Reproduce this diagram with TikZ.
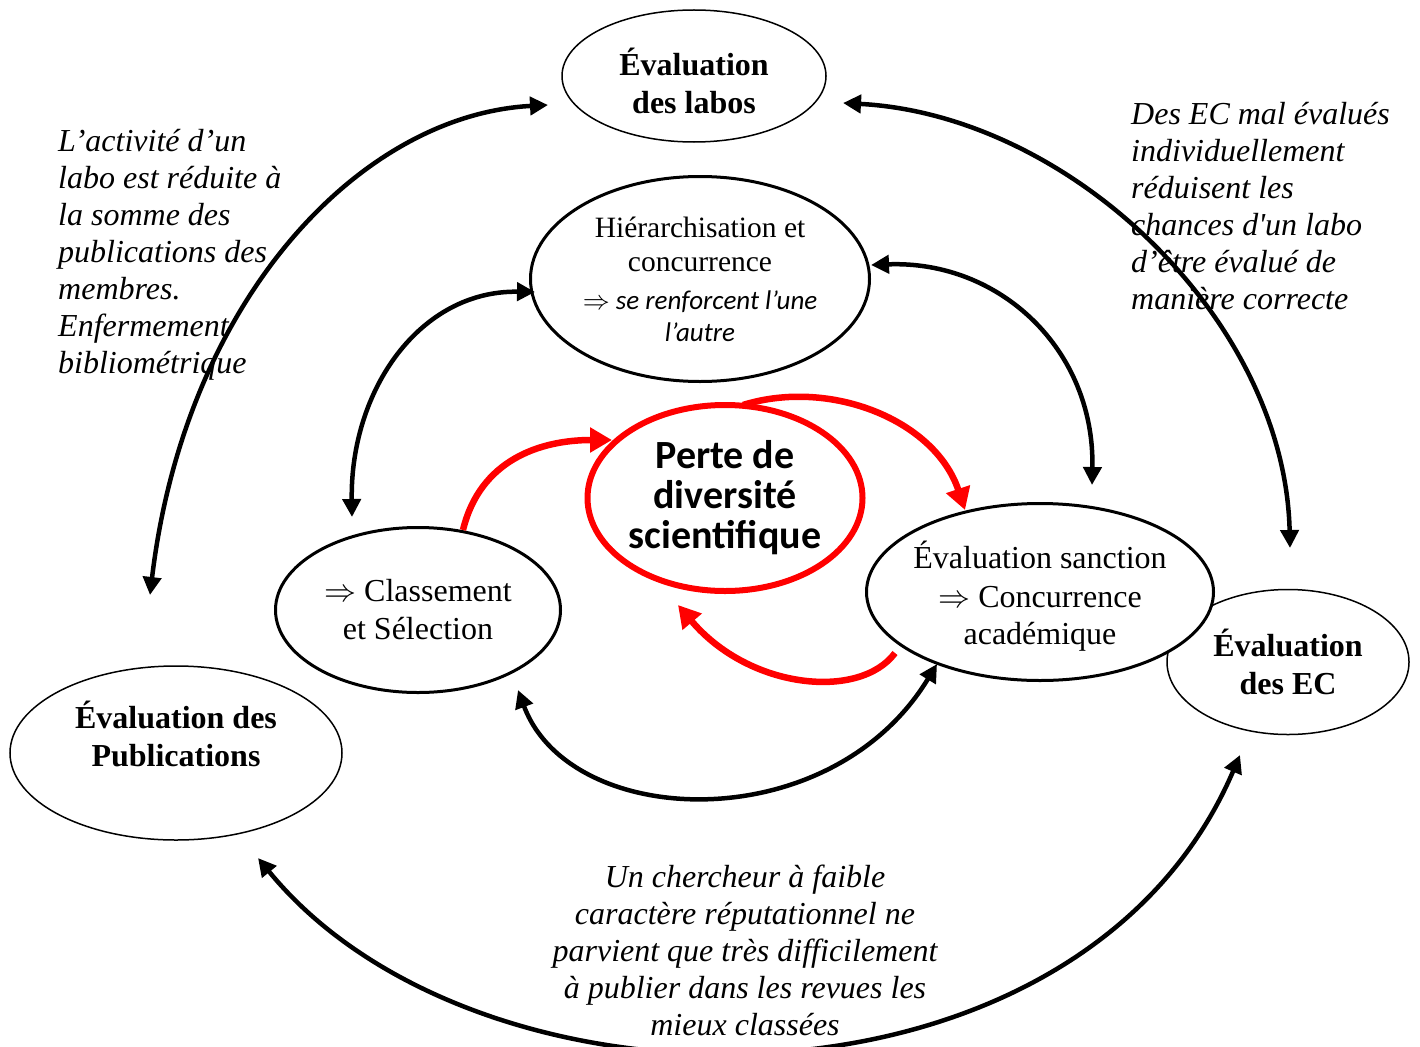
\RequirePackage{fix-cm}
\documentclass[tikz,border=0pt]{standalone}
\usepackage{fontspec}
\setmainfont{Liberation Serif}
\newfontfamily\calib{Carlito}
\usetikzlibrary{arrows.meta,shapes.geometric}
\begin{document}
\begin{tikzpicture}[x=1pt,y=-1pt,
  thinell/.style={ellipse,draw,line width=1.5pt,inner sep=-14pt,align=center,font=\bfseries\fontsize{32}{38}\selectfont},
  thickell/.style={ellipse,draw,line width=3pt,fill=white,inner sep=-14pt,align=center,font=\fontsize{32}{38}\selectfont},
  redell/.style={ellipse,draw=red,line width=6pt,inner sep=-14pt,align=center,font=\calib\bfseries\fontsize{40}{40}\selectfont},
  note/.style={inner sep=0pt,align=left,font=\itshape\fontsize{32}{37}\selectfont},
  blk/.style={line width=4.5pt,{Triangle[length=18pt,width=18pt]}-{Triangle[length=18pt,width=18pt]}},
  rd/.style={draw=red,line width=6.5pt,-{Triangle[length=22pt,width=24pt]}}
]
\useasboundingbox (0,0) rectangle (1420,1046);

% thin ellipses
\node[thinell,minimum width=264,minimum height=132] (labos) at (694,76) {\mbox{}\\[-1pt]Évaluation\\des labos};
\node[thinell,minimum width=242,minimum height=145] (ec) at (1288,662) {Évaluation\\des EC};
\node[thinell,minimum width=332,minimum height=174] (pub) at (176,753) {Évaluation des\\Publications\\\mbox{}};

% notes
\node[note,anchor=north west] (noteL) at (58,129) {L’activité d’un\\labo est réduite à\\la somme des\\publications des\\membres.\\Enfermement\\bibliométrique};
\node[note,anchor=north west] (noteR) at (1131,102) {Des EC mal évalués\\individuellement\\réduisent les\\chances d\textquotesingle un labo\\d’être évalué de\\manière correcte};
\node[note,align=center,anchor=north] (noteB) at (745,865) {Un chercheur à faible\\caractère réputationnel ne\\parvient que très difficilement\\à publier dans les revues les\\mieux classées};

% thick ellipses
\node[thickell,minimum width=339,minimum height=205,font=\fontsize{29.5}{34}\selectfont] (hier) at (700,279)
  {Hiérarchisation et\\concurrence\\[4pt]{\calib\itshape\fontsize{27}{30}\selectfont$\Rightarrow$ se renforcent l’une}\\[-2pt]{\calib\itshape\fontsize{27}{30}\selectfont l’autre}};
\node[thickell,minimum width=285,minimum height=165] (classe) at (418,610) {$\Rightarrow$ Classement\\et Sélection};
\node[thickell,minimum width=347,minimum height=177,font=\fontsize{32}{39}\selectfont] (sanct) at (1040,592) {\mbox{}\\[-3pt]Évaluation sanction\\$\Rightarrow$ Concurrence\\[-2pt]académique};

% red ellipse
\node[redell,minimum width=275,minimum height=186] (perte) at (725,498) {Perte de\\diversité\\scientifique};

% black connectors
\draw[blk] ([shift={(-146,29)}]labos.center) .. controls (360,115) and (185,300) .. ([shift={(-26,-158)}]pub.center);
\draw[blk] ([shift={(149,27)}]labos.center) .. controls (1070,115) and (1285,320) .. ([shift={(2,-114)}]ec.center);
\draw[blk] ([shift={(82,105)}]pub.center) .. controls (480,1130) and (1080,1130) .. ([shift={(-48,93)}]ec.center);
\draw[blk] ([shift={(-165,13)}]hier.center) .. controls (420,290) and (350,390) .. ([shift={(-66,-93)}]classe.center);
\draw[blk] ([shift={(171,-14)}]hier.center) .. controls (1000,260) and (1095,350) .. ([shift={(52,-107)}]sanct.center);
\draw[blk] ([shift={(100,80)}]classe.center) .. controls (570,830) and (830,840) .. ([shift={(-103,72)}]sanct.center);

% red connectors
\draw[rd] ([shift={(45,-80)}]classe.center) .. controls (480,460) and (540,440) .. ([shift={(-113,-58)}]perte.center);
\draw[rd] ([shift={(18,-93)}]perte.center) .. controls (830,378) and (935,420) .. ([shift={(-75,-82)}]sanct.center);
\draw[rd] ([shift={(-145,61)}]sanct.center) .. controls (860,700) and (750,690) .. ([shift={(-47,107)}]perte.center);
\end{tikzpicture}
\end{document}
